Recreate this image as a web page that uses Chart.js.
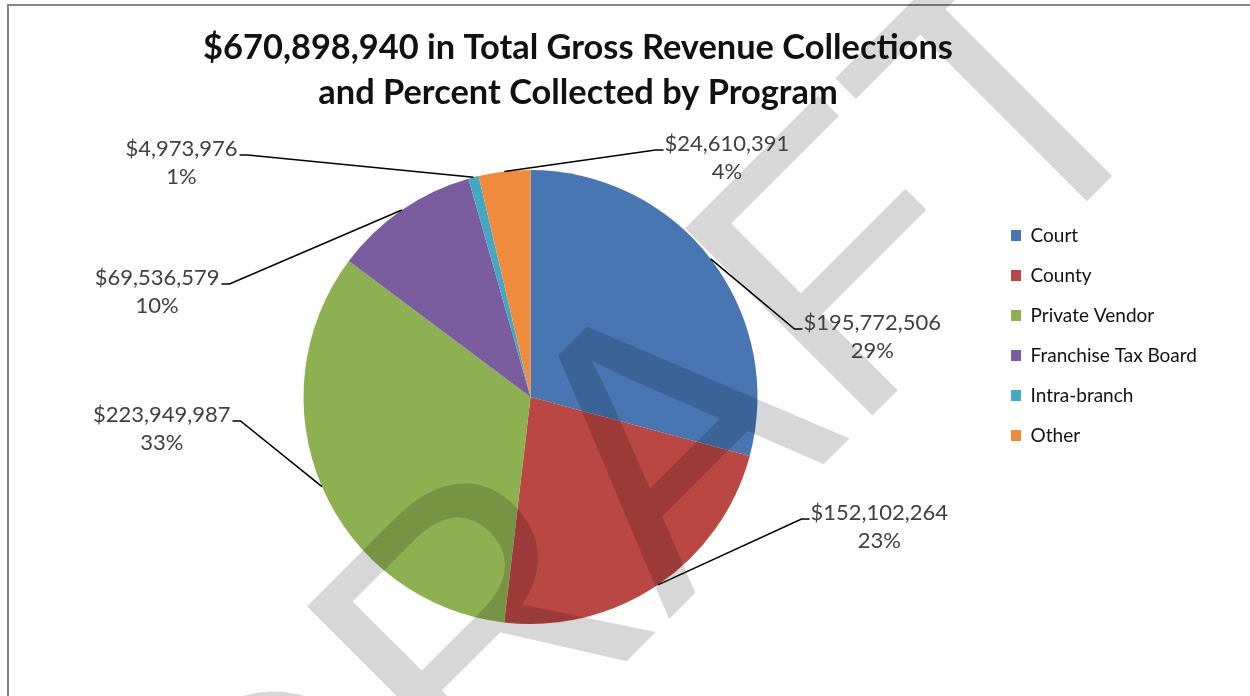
<!DOCTYPE html>
<html>
<head>
<meta charset="UTF-8">
<script src="https://cdn.jsdelivr.net/npm/chart.js"></script>
<style>
    body { margin: 0; background: #fff; }
    canvas { display: block; }
</style>
</head>
<body>
<canvas id="collectionsChart" width="1250" height="696"></canvas>

<script>
    const programs = ['Court', 'County', 'Private Vendor', 'Franchise Tax Board', 'Intra-branch', 'Other'];
    const collected = [195772506, 152102264, 223949987, 69536579, 4973976, 24610391];
    const titleLines = ['$670,898,940 in Total Gross Revenue Collections', 'and Percent Collected by Program'];

    const sliceColors = ['#4876B3', '#BA4744', '#8DB050', '#7B5C9E', '#44A8C4', '#F08A3C'];

    // end of each leader line (next to its label), measured from the pie centre
    const labelSpots = [[272, -68], [279, 122], [-298, 24], [-309, -113], [-291, -242], [133, -247]];

    const total = collected.reduce((a, b) => a + b, 0);
    const money = v => '$' + v.toLocaleString('en-US');

    const framePlugin = {
        id: 'frame',
        beforeDraw(chart) {
            const ctx = chart.ctx;
            ctx.save();
            ctx.fillStyle = '#fff';
            ctx.fillRect(0, 0, chart.width, chart.height);
            ctx.strokeStyle = '#868686';
            ctx.lineWidth = 2;
            ctx.beginPath();
            ctx.moveTo(8, chart.height);
            ctx.lineTo(8, 5);
            ctx.lineTo(chart.width, 5);
            ctx.stroke();
            ctx.restore();
        }
    };

    const overlayPlugin = {
        id: 'overlay',
        afterDatasetsDraw(chart) {
            const ctx = chart.ctx;

            // DRAFT stamp across the chart
            ctx.save();
            ctx.translate(729, 559);
            ctx.rotate(-Math.PI / 4);
            ctx.font = '385px "Liberation Sans", Arial, sans-serif';
            ctx.textAlign = 'center';
            ctx.textBaseline = 'alphabetic';
            ctx.fillStyle = 'rgba(0, 0, 0, 0.155)';
            ctx.fillText('DRAFT', 0, 0);
            ctx.restore();

            // leader lines and value labels
            const meta = chart.getDatasetMeta(0);
            ctx.save();
            ctx.font = '22px Lato, sans-serif';
            ctx.textAlign = 'center';
            ctx.textBaseline = 'middle';
            meta.data.forEach((arc, i) => {
                const p = arc.getProps(['x', 'y', 'startAngle', 'endAngle', 'outerRadius'], true);
                const mid = (p.startAngle + p.endAngle) / 2;
                const sx = p.x + Math.cos(mid) * p.outerRadius;
                const sy = p.y + Math.sin(mid) * p.outerRadius;
                const ex = p.x + labelSpots[i][0];
                const ey = p.y + labelSpots[i][1];
                const right = labelSpots[i][0] > 0;

                ctx.strokeStyle = '#000';
                ctx.lineWidth = 1.6;
                ctx.beginPath();
                ctx.moveTo(sx, sy);
                ctx.lineTo(right ? ex - 8 : ex + 8, ey);
                ctx.lineTo(ex, ey);
                ctx.stroke();

                const line1 = money(collected[i]);
                const line2 = Math.round(collected[i] / total * 100) + '%';
                const w = ctx.measureText(line1).width;
                const left = right ? ex + 1 : ex - 2 - w;
                ctx.fillStyle = '#404040';
                ctx.fillText(line1, left + w / 2, ey - 6);
                ctx.fillText(line2, left + w / 2, ey + 22);
            });
            ctx.restore();

            // two-line heading
            ctx.save();
            ctx.font = 'bold 34.4px Lato, sans-serif';
            ctx.fillStyle = '#111';
            ctx.textAlign = 'center';
            ctx.textBaseline = 'middle';
            ctx.fillText(titleLines[0], 578, 48);
            ctx.fillText(titleLines[1], 578, 93);
            ctx.restore();
        }
    };

    new Chart(document.getElementById('collectionsChart'), {
        type: 'pie',
        data: {
            labels: programs,
            datasets: [{
                data: collected,
                backgroundColor: sliceColors,
                borderWidth: 0,
                radius: 227,
                clip: false
            }]
        },
        options: {
            responsive: false,
            animation: false,
            layout: {
                padding: { top: 205, bottom: 107, left: 71, right: 43 }
            },
            plugins: {
                tooltip: { enabled: false },
                legend: {
                    position: 'right',
                    align: 'start',
                    labels: {
                        boxWidth: 10,
                        boxHeight: 11,
                        padding: 21,
                        color: '#111',
                        font: { family: 'Lato', size: 19 }
                    }
                }
            }
        },
        plugins: [framePlugin, overlayPlugin]
    });
</script>
</body>
</html>
